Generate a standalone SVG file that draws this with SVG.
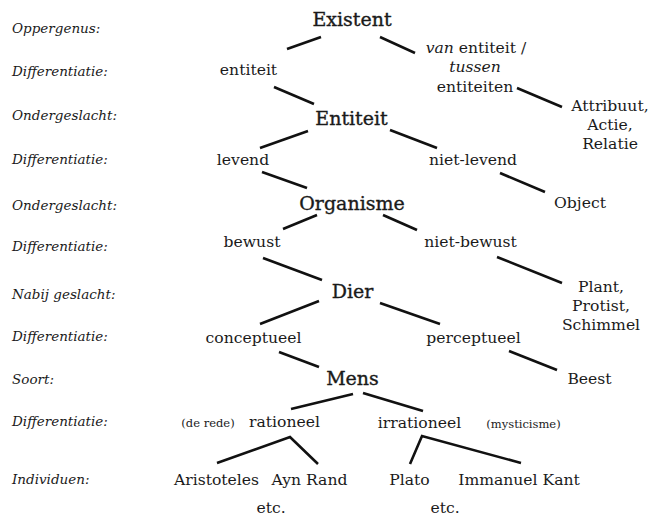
<svg xmlns="http://www.w3.org/2000/svg" width="652" height="518" viewBox="0 0 652 518">
<style>
text{font-family:"DejaVu Serif","Liberation Serif",serif;fill:#1a1a1a;text-anchor:middle}
.lab{font-style:italic;font-size:13.5px;text-anchor:start}
.big{font-size:19px;stroke:#1a1a1a;stroke-width:0.35}
.t{font-size:15.6px}
.s{font-size:11.5px}
.c line{stroke:#111;stroke-width:2.6;stroke-linecap:butt}
</style>
<rect width="652" height="518" fill="#fff"/>
<g id="labels">
<text class="lab" x="12" y="33">Oppergenus:</text>
<text class="lab" x="12" y="76">Differentiatie:</text>
<text class="lab" x="12" y="120">Ondergeslacht:</text>
<text class="lab" x="12" y="164">Differentiatie:</text>
<text class="lab" x="12" y="210">Ondergeslacht:</text>
<text class="lab" x="12" y="251">Differentiatie:</text>
<text class="lab" x="12" y="299">Nabij geslacht:</text>
<text class="lab" x="12" y="341">Differentiatie:</text>
<text class="lab" x="12" y="384">Soort:</text>
<text class="lab" x="12" y="426">Differentiatie:</text>
<text class="lab" x="12" y="484">Individuen:</text>
</g>
<g class="c" id="connectors">
<line x1="287" y1="49" x2="321" y2="37"/>
<line x1="380" y1="37" x2="415" y2="53"/>
<line x1="274" y1="87" x2="314" y2="104"/>
<line x1="517" y1="88" x2="562" y2="107"/>
<line x1="260" y1="148" x2="308" y2="131"/>
<line x1="390" y1="130" x2="437" y2="148"/>
<line x1="262" y1="172" x2="307" y2="188"/>
<line x1="500" y1="173" x2="545" y2="192"/>
<line x1="283" y1="229" x2="317" y2="215"/>
<line x1="383" y1="215" x2="417" y2="230"/>
<line x1="263" y1="258" x2="322" y2="280"/>
<line x1="497" y1="257" x2="562" y2="283"/>
<line x1="260" y1="324" x2="319" y2="301"/>
<line x1="380" y1="303" x2="440" y2="324"/>
<line x1="279" y1="352" x2="319" y2="367"/>
<line x1="509" y1="351" x2="557" y2="370"/>
<line x1="291" y1="409" x2="353" y2="394"/>
<line x1="363" y1="393" x2="423" y2="411"/>
<polyline points="217,463 290,437 318,464" fill="none" stroke="#111" stroke-width="2.6"/>
<polyline points="410,464 422,436 521,463" fill="none" stroke="#111" stroke-width="2.6"/>
</g>
<g id="existent"><text class="big" x="352" y="26">Existent</text></g>
<g id="diff-entiteit"><text class="t" x="248.5" y="75">entiteit</text></g>
<g id="diff-tussen">
<text class="t" x="476" y="53"><tspan font-style="italic">van</tspan> entiteit /</text>
<text class="t" x="475" y="72" font-style="italic">tussen</text>
<text class="t" x="475" y="92">entiteiten</text>
</g>
<g id="attribuut">
<text class="t" x="610" y="111">Attribuut,</text>
<text class="t" x="610" y="130">Actie,</text>
<text class="t" x="610" y="149">Relatie</text>
</g>
<g id="entiteit"><text class="big" x="351.5" y="125">Entiteit</text></g>
<g id="levend"><text class="t" x="243" y="165">levend</text></g>
<g id="niet-levend"><text class="t" x="473" y="165">niet-levend</text></g>
<g id="object"><text class="t" x="580" y="208">Object</text></g>
<g id="organisme"><text class="big" x="352" y="210">Organisme</text></g>
<g id="bewust"><text class="t" x="252" y="247">bewust</text></g>
<g id="niet-bewust"><text class="t" x="470.5" y="247">niet-bewust</text></g>
<g id="plant">
<text class="t" x="601" y="292">Plant,</text>
<text class="t" x="601" y="311">Protist,</text>
<text class="t" x="601" y="330">Schimmel</text>
</g>
<g id="dier"><text class="big" x="352.5" y="298">Dier</text></g>
<g id="conceptueel"><text class="t" x="253.5" y="343">conceptueel</text></g>
<g id="perceptueel"><text class="t" x="473.5" y="343">perceptueel</text></g>
<g id="beest"><text class="t" x="589.5" y="384">Beest</text></g>
<g id="mens"><text class="big" x="352.5" y="385">Mens</text></g>
<g id="rationeel">
<text class="s" x="208" y="427">(de rede)</text>
<text class="t" x="284.5" y="427">rationeel</text>
</g>
<g id="irrationeel">
<text class="t" x="419.5" y="428">irrationeel</text>
<text class="s" x="523.5" y="428">(mysticisme)</text>
</g>
<g id="aristoteles"><text class="t" x="216.5" y="485">Aristoteles</text></g>
<g id="ayn-rand"><text class="t" x="309.5" y="485">Ayn Rand</text></g>
<g id="plato"><text class="t" x="409.5" y="485">Plato</text></g>
<g id="kant"><text class="t" x="519" y="485">Immanuel Kant</text></g>
<g id="etc-1"><text class="t" x="271" y="513">etc.</text></g>
<g id="etc-2"><text class="t" x="445" y="513">etc.</text></g>
</svg>
